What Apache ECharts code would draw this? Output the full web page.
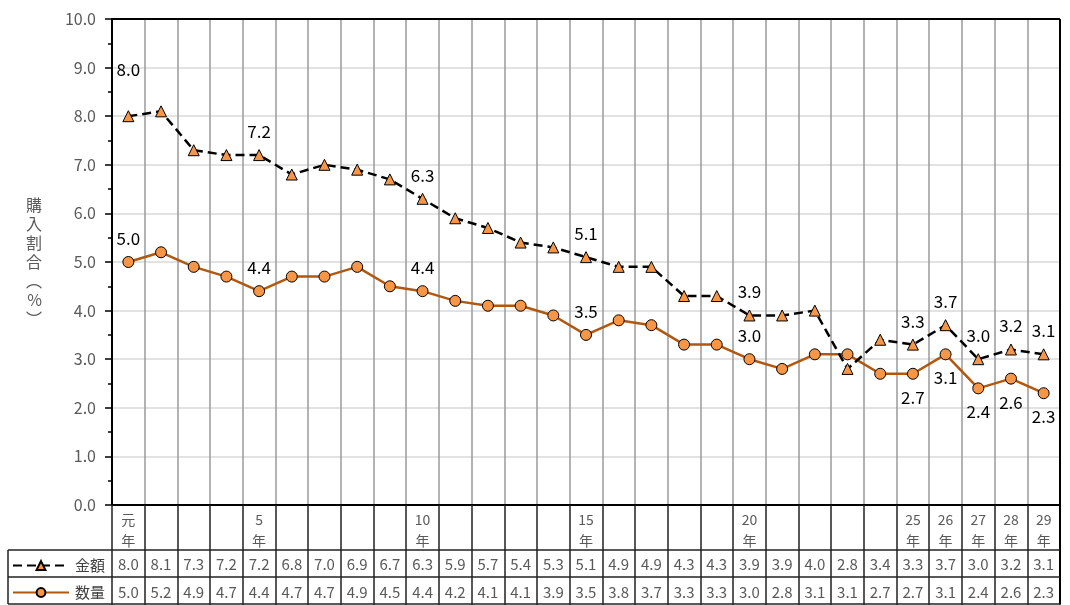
<!DOCTYPE html>
<html>
<head>
<meta charset="utf-8">
<script src="https://cdn.jsdelivr.net/npm/echarts@6/dist/echarts.min.js"></script>
<style>
  html, body { margin: 0; padding: 0; background: #fff; }
  #main { width: 1070px; height: 605px; }
</style>
</head>
<body>
<div id="main"></div>
<script>
// 年（平成）ラベル
const tickLabels = ['元年', '', '', '', '5年', '', '', '', '', '10年', '', '', '', '', '15年', '', '', '', '', '20年', '', '', '', '', '25年', '26年', '27年', '28年', '29年'];
// 金額・数量（%）
const amount = [8.0, 8.1, 7.3, 7.2, 7.2, 6.8, 7.0, 6.9, 6.7, 6.3, 5.9, 5.7, 5.4, 5.3, 5.1, 4.9, 4.9, 4.3, 4.3, 3.9, 3.9, 4.0, 2.8, 3.4, 3.3, 3.7, 3.0, 3.2, 3.1];
const volume = [5.0, 5.2, 4.9, 4.7, 4.4, 4.7, 4.7, 4.9, 4.5, 4.4, 4.2, 4.1, 4.1, 3.9, 3.5, 3.8, 3.7, 3.3, 3.3, 3.0, 2.8, 3.1, 3.1, 2.7, 2.7, 3.1, 2.4, 2.6, 2.3];
// ラベルを出す位置
const amountLabelAt = [0, 4, 9, 14, 19, 24, 25, 26, 27, 28];
const volumeLabelAbove = [0, 4, 9, 14, 19];
const volumeLabelBelow = [24, 25, 26, 27, 28];

const FONT = '"Noto Sans CJK JP", "Noto Sans", sans-serif';
const G = { left: 112, right: 10, top: 19, bottom: 100 };
const W = 1070, H = 605;
const x0 = G.left, x1 = W - G.right, yTop = G.top, yBase = H - G.bottom;

let myChart = echarts.init(document.getElementById('main'), null, { renderer: 'canvas' });

function fmt(v) { return v.toFixed(1); }

// 金額のデータ（ラベル付き）
let amountData = amount.map(function (v, i) {
    let d = { value: v };
    if (amountLabelAt.indexOf(i) >= 0) {
        d.label = { show: true, position: 'top', distance: 9 };
        if (i === 0) d.label.distance = 32;
    }
    return d;
});
let volumeData = volume.map(function (v, i) {
    let d = { value: v };
    if (volumeLabelAbove.indexOf(i) >= 0) {
        d.label = { show: true, position: 'top', distance: 9 };
    } else if (volumeLabelBelow.indexOf(i) >= 0) {
        d.label = { show: true, position: 'bottom', distance: 9 };
    }
    return d;
});

let lineColor = '#222';

// 凡例（表の左端）
function legendAt(name, top) {
    return {
        left: 12,
        top: top,
        padding: 0,
        itemWidth: 56,
        itemHeight: 11,
        itemGap: 6,
        textStyle: { fontSize: 15, color: '#404040', fontFamily: FONT, padding: [0, 0, 0, 1] },
        data: [name]
    };
}

option = {
    animation: false,
    textStyle: { fontFamily: FONT },
    grid: { left: G.left, right: G.right, top: G.top, bottom: G.bottom, containLabel: false },
    legend: [legendAt('金額', 558), legendAt('数量', 585)],
    xAxis: {
        type: 'category',
        data: tickLabels,
        boundaryGap: true,
        axisLine: { lineStyle: { color: '#000', width: 2 } },
        axisTick: { show: true, interval: 0, length: 100, lineStyle: { color: lineColor, width: 1.5 } },
        splitLine: { show: true, interval: 0, lineStyle: { color: '#9a9a9a', width: 1.5 } },
        axisLabel: {
            interval: 0,
            margin: 4,
            formatter: function (val, idx) {
                let top = ' ', bot = ' ';
                if (val) {
                    top = val.replace('年', '');
                    bot = '年';
                }
                return '{c|' + top + '}\n{c|' + bot + '}\n{v|' + fmt(amount[idx]) + '}\n{v|' + fmt(volume[idx]) + '}';
            },
            rich: {
                c: { fontSize: 14, color: '#595959', lineHeight: 21, fontFamily: FONT },
                v: { fontSize: 15, color: '#595959', lineHeight: 27.5, fontFamily: FONT }
            }
        }
    },
    yAxis: {
        type: 'value',
        min: 0,
        max: 10,
        interval: 1,
        name: '購\n入\n割\n合\n︵\n%\n︶',
        nameLocation: 'middle',
        nameRotate: 0,
        nameGap: 70,
        nameTextStyle: { fontSize: 16, color: '#595959', lineHeight: 19, fontFamily: FONT },
        axisLine: { show: true, lineStyle: { color: '#000', width: 2 } },
        axisTick: { show: true, length: 7, lineStyle: { color: '#000', width: 1.5 } },
        minorTick: { show: true, splitNumber: 2, length: 4, lineStyle: { color: '#000', width: 1.5 } },
        axisLabel: {
            margin: 16,
            fontSize: 16,
            color: '#595959',
            fontFamily: FONT,
            formatter: function (v) { return v.toFixed(1); }
        },
        splitLine: { show: true, lineStyle: { color: '#d9d9d9', width: 1.5 } }
    },
    series: [
        {
            name: '金額',
            type: 'line',
            data: amountData,
            symbol: 'triangle',
            symbolSize: 11,
            lineStyle: { color: '#000', width: 2.5, type: [9, 5] },
            itemStyle: { color: '#F79646', borderColor: '#000', borderWidth: 1 },
            label: { show: false, color: '#000', fontSize: 17, fontFamily: FONT, formatter: function (p) { return fmt(p.value); } },
            z: 3
        },
        {
            name: '数量',
            type: 'line',
            data: volumeData,
            symbol: 'circle',
            symbolSize: 11,
            lineStyle: { color: '#B0580F', width: 2.5 },
            itemStyle: { color: '#F79646', borderColor: '#000', borderWidth: 1 },
            label: { show: false, color: '#000', fontSize: 17, fontFamily: FONT, formatter: function (p) { return fmt(p.value); } },
            z: 2
        }
    ],
    // 表の罫線
    graphic: [
        { type: 'line', shape: { x1: x0, y1: yTop, x2: x1, y2: yTop }, style: { stroke: '#000', lineWidth: 2 }, z: 10 },
        { type: 'line', shape: { x1: x1, y1: yTop, x2: x1, y2: H - 1 }, style: { stroke: '#000', lineWidth: 2 }, z: 10 },
        { type: 'line', shape: { x1: 8, y1: 550, x2: x1, y2: 550 }, style: { stroke: lineColor, lineWidth: 1.5 }, z: 10 },
        { type: 'line', shape: { x1: 8, y1: 577, x2: x1, y2: 577 }, style: { stroke: lineColor, lineWidth: 1.5 }, z: 10 },
        { type: 'line', shape: { x1: 8, y1: 604, x2: x1, y2: 604 }, style: { stroke: lineColor, lineWidth: 1.5 }, z: 10 },
        { type: 'line', shape: { x1: 8, y1: 550, x2: 8, y2: 604 }, style: { stroke: lineColor, lineWidth: 1.5 }, z: 10 }
    ]
};
myChart.setOption(option);
window.addEventListener('resize', function () {
    myChart.resize();
});
</script>
</body>
</html>
